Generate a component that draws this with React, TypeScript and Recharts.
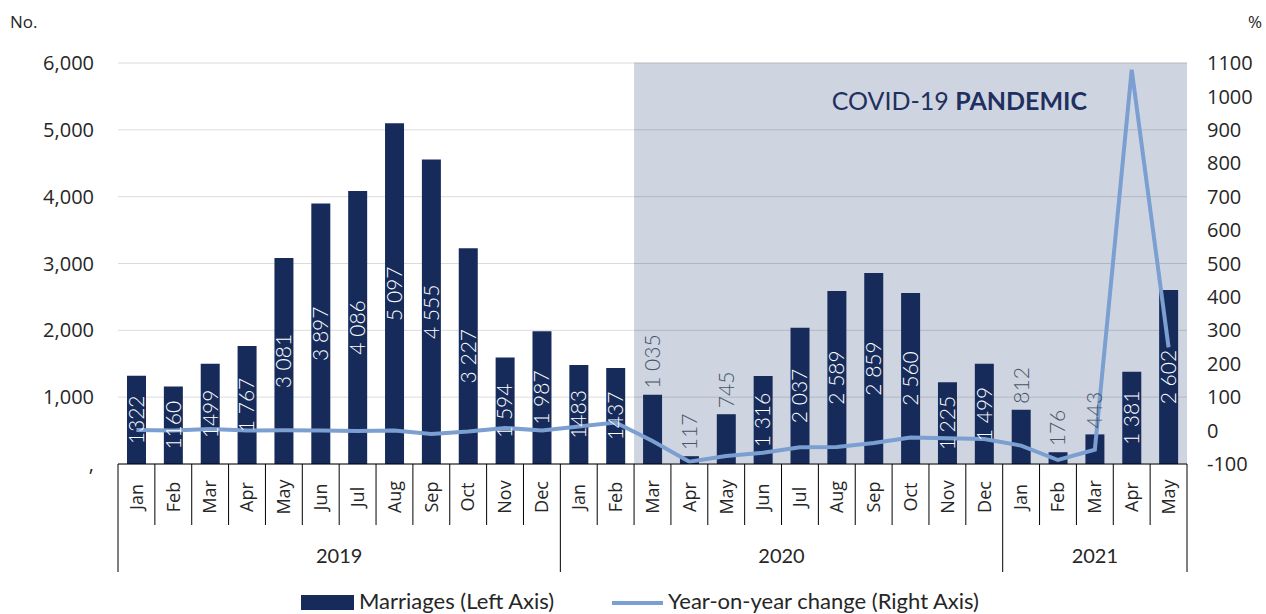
import React from 'react';
import { ComposedChart, Bar, Line, XAxis, YAxis, ReferenceArea, LabelList, Legend, CartesianGrid } from 'recharts';

const months = [
  'Jan', 'Feb', 'Mar', 'Apr', 'May', 'Jun', 'Jul', 'Aug', 'Sep', 'Oct', 'Nov', 'Dec',
  'Jan', 'Feb', 'Mar', 'Apr', 'May', 'Jun', 'Jul', 'Aug', 'Sep', 'Oct', 'Nov', 'Dec',
  'Jan', 'Feb', 'Mar', 'Apr', 'May',
];
const years = [
  '2019', '2019', '2019', '2019', '2019', '2019', '2019', '2019', '2019', '2019', '2019', '2019',
  '2020', '2020', '2020', '2020', '2020', '2020', '2020', '2020', '2020', '2020', '2020', '2020',
  '2021', '2021', '2021', '2021', '2021',
];
const marriages = [
  1322, 1160, 1499, 1767, 3081, 3897, 4086, 5097, 4555, 3227, 1594, 1987,
  1483, 1437, 1035, 117, 745, 1316, 2037, 2589, 2859, 2560, 1225, 1499,
  812, 176, 443, 1381, 2602,
];
const marriageLabels = [
  '1322', '1160', '1499', '1 767', '3 081', '3 897', '4 086', '5 097', '4 555', '3 227', '1 594', '1 987',
  '1483', '1437', '1 035', '117', '745', '1 316', '2 037', '2 589', '2 859', '2 560', '1 225', '1 499',
  '812', '176', '443', '1 381', '2 602',
];
const yoyChange = [
  2, 0, 5, 0, 1, 0, -1, 0, -10, -3, 8, 0,
  12, 24, -31, -93, -76, -66, -50, -49, -37, -21, -23, -25,
  -45, -88, -57, 1080, 249,
];
const leftTicks = [0, 1000, 2000, 3000, 4000, 5000, 6000];
const rightTicks = [-100, 0, 100, 200, 300, 400, 500, 600, 700, 800, 900, 1000, 1100];
const pandemicStart = 'Mar 2020';
const pandemicEnd = 'May 2021';

const data = months.map((m, i) => ({
  key: `${m} ${years[i]}`,
  month: m,
  year: years[i],
  marriages: marriages[i],
  yoy: yoyChange[i],
}));

const NAVY = '#172b5b';
const LINE_BLUE = '#7b9fd1';
const SHADE = '#cfd5e0';
const TEXT = '#262626';
const GRID = 'rgba(0,0,0,0.14)';
const SEGOE = '"Open Sans", "Noto Sans", sans-serif';
const CALIBRI = 'Lato, "Noto Sans", sans-serif';

const WIDTH = 1266;
const HEIGHT = 614;
const LEFT_W = 118;
const RIGHT_W = 79;
const BAND = (WIDTH - LEFT_W - RIGHT_W) / months.length;
const LEFT_MAX = leftTicks[leftTicks.length - 1];

function MonthTick(props: any) {
  const { x, y, payload } = props;
  const i = payload.index;
  const left = x - BAND / 2;
  const yearStart = i === 0 || years[i] !== years[i - 1];
  const last = i === months.length - 1;
  let yearCount = 0;
  if (yearStart) {
    for (let j = i; j < years.length && years[j] === years[i]; j++) yearCount++;
  }
  const cy = y + 33;
  return (
    <g>
      <line x1={left} x2={left} y1={y} y2={y + (yearStart ? 108 : 61)} stroke="#000" strokeWidth={1} />
      {last && <line x1={left + BAND} x2={left + BAND} y1={y} y2={y + 108} stroke="#000" strokeWidth={1} />}
      <text
        x={x}
        y={cy}
        dy="0.35em"
        transform={`rotate(-90 ${x} ${cy})`}
        textAnchor="middle"
        fill={TEXT}
        fontFamily={SEGOE}
        fontSize={18}
      >
        {months[i]}
      </text>
      {yearStart && (
        <text x={left + (yearCount * BAND) / 2} y={y + 99} textAnchor="middle" fill={TEXT} fontFamily={CALIBRI} fontSize={20}>
          {years[i]}
        </text>
      )}
    </g>
  );
}

function BarLabel(props: any) {
  const { x, y, width, height, index } = props;
  const v = marriages[index];
  const text = marriageLabels[index];
  const cx = x + width / 2;
  if (v < 1100) {
    const by = y - 6;
    return (
      <text x={cx} y={by} dy="0.35em" transform={`rotate(-90 ${cx} ${by})`} textAnchor="start" fill="#44546a" fontFamily={CALIBRI} fontWeight={300} fontSize={21}>
        {text}
      </text>
    );
  }
  const cy = y + height / 2;
  return (
    <text x={cx} y={cy} dy="0.35em" transform={`rotate(-90 ${cx} ${cy})`} textAnchor="middle" fill="#ffffff" fontFamily={CALIBRI} fontWeight={300} fontSize={21}>
      {text}
    </text>
  );
}

// shaded pandemic band, with its own (darker) gridlines drawn on top of the fill
function PandemicShape(props: any) {
  const { x, y, width, height } = props;
  return (
    <g>
      <rect x={x} y={y} width={width} height={height} fill={SHADE} />
      {leftTicks.filter((t) => t > 0).map((t) => {
        const gy = y + height * (1 - t / LEFT_MAX);
        return <line key={t} x1={x} x2={x + width} y1={gy} y2={gy} stroke={GRID} strokeWidth={1} />;
      })}
    </g>
  );
}

function CovidLabel(props: any) {
  const { x, y, width } = props.viewBox;
  return (
    <text x={x + width - 100} y={y + 47} textAnchor="end" fill="#1f3060" fontFamily={CALIBRI} fontSize={25}>
      <tspan>COVID-19 </tspan>
      <tspan fontWeight={700}>PANDEMIC</tspan>
    </text>
  );
}

function LegendContent() {
  return (
    <div style={{ height: 32, margin: 0 }}>
      <svg width={WIDTH} height={32} style={{ display: 'block' }}>
        <rect x={301} y={13} width={53} height={15} fill={NAVY} />
        <text x={359} y={27} fill={TEXT} fontFamily={CALIBRI} fontSize={22}>Marriages (Left Axis)</text>
        <line x1={612} x2={663} y1={21} y2={21} stroke={LINE_BLUE} strokeWidth={4} />
        <text x={668} y={27} fill={TEXT} fontFamily={CALIBRI} fontSize={22}>Year-on-year change (Right Axis)</text>
      </svg>
    </div>
  );
}

export default function App() {
  return (
    <div style={{ position: 'absolute', left: 0, top: 0, width: WIDTH, height: HEIGHT, background: '#fff' }}>
      <ComposedChart width={WIDTH} height={HEIGHT} data={data} margin={{ top: 63, right: 0, bottom: 0, left: 0 }}>
        <CartesianGrid yAxisId="left" vertical={false} stroke={GRID} />
        <ReferenceArea
          x1={pandemicStart}
          x2={pandemicEnd}
          y1={0}
          y2={LEFT_MAX}
          yAxisId="left"
          shape={<PandemicShape />}
          label={CovidLabel}
        />
        <XAxis
          dataKey="key"
          interval={0}
          height={118}
          tickSize={0}
          tickMargin={0}
          tickLine={false}
          axisLine={{ stroke: '#000', strokeWidth: 1 }}
          tick={<MonthTick />}
        />
        <YAxis
          yAxisId="left"
          width={LEFT_W}
          domain={[0, LEFT_MAX]}
          ticks={leftTicks}
          axisLine={false}
          tickLine={false}
          tickSize={0}
          tickMargin={24}
          tick={{ fill: TEXT, fontSize: 20, fontFamily: SEGOE }}
          tickFormatter={(v: number) => (v === 0 ? ',' : v.toLocaleString('en-US'))}
          label={{
            content: () => (
              <text x={10} y={28} fill={TEXT} fontFamily={SEGOE} fontSize={17}>No.</text>
            ),
          }}
        />
        <YAxis
          yAxisId="right"
          orientation="right"
          width={RIGHT_W}
          domain={[-100, 1100]}
          ticks={rightTicks}
          axisLine={false}
          tickLine={false}
          tickSize={0}
          tickMargin={20}
          tick={{ fill: TEXT, fontSize: 20, fontFamily: SEGOE, textAnchor: 'start' }}
          label={{
            content: () => (
              <text x={1248} y={28} fill={TEXT} fontFamily={SEGOE} fontSize={17}>%</text>
            ),
          }}
        />
        <Legend verticalAlign="bottom" content={<LegendContent />} />
        <Bar yAxisId="left" dataKey="marriages" fill={NAVY} barSize={19} isAnimationActive={false}>
          <LabelList dataKey="marriages" content={<BarLabel />} />
        </Bar>
        <Line
          yAxisId="right"
          type="linear"
          dataKey="yoy"
          stroke={LINE_BLUE}
          strokeWidth={4}
          dot={false}
          activeDot={false}
          isAnimationActive={false}
        />
      </ComposedChart>
    </div>
  );
}
